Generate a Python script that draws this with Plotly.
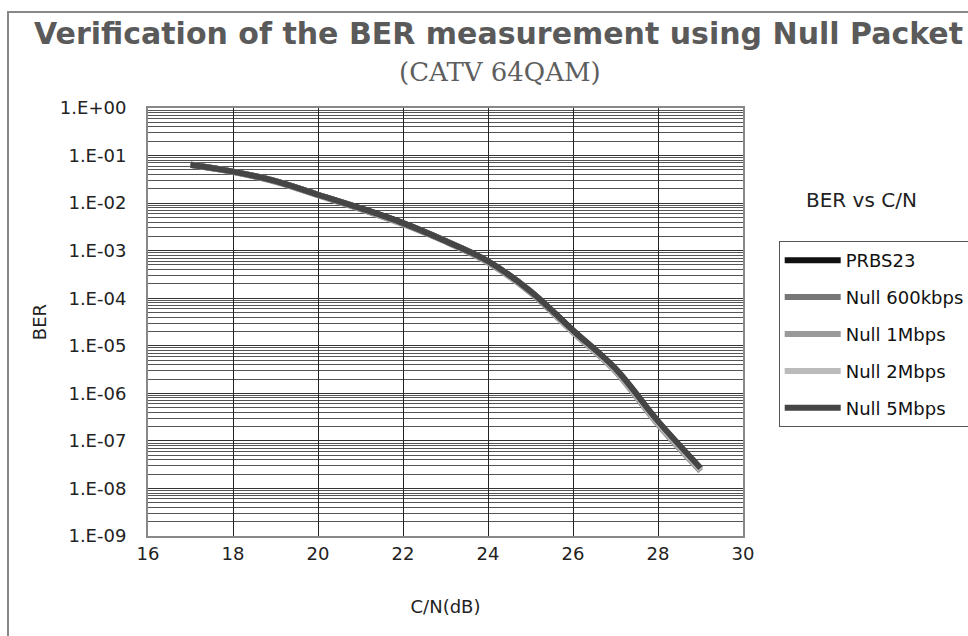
import plotly.graph_objects as go

cn_db = [17, 18, 19, 20, 21, 22, 23, 24, 25, 26, 27, 28, 29]
prbs23 = [6.4e-2, 4.6e-2, 2.9e-2, 1.5e-2, 7.8e-3, 3.8e-3, 1.6e-3, 6.0e-4, 1.4e-4, 2.1e-5, 3.2e-6, 2.5e-7, 2.6e-8]
null_600k = [6.5e-2, 4.6e-2, 2.9e-2, 1.5e-2, 7.6e-3, 3.7e-3, 1.6e-3, 5.8e-4, 1.35e-4, 2.0e-5, 3.0e-6, 2.3e-7, 2.4e-8]
null_1m = [6.3e-2, 4.5e-2, 2.8e-2, 1.45e-2, 7.5e-3, 3.6e-3, 1.55e-3, 5.6e-4, 1.3e-4, 1.9e-5, 2.9e-6, 2.2e-7, 2.3e-8]
null_2m = [6.4e-2, 4.6e-2, 2.9e-2, 1.5e-2, 7.7e-3, 3.7e-3, 1.6e-3, 5.9e-4, 1.4e-4, 2.0e-5, 3.1e-6, 2.4e-7, 2.5e-8]
null_5m = [6.4e-2, 4.6e-2, 2.9e-2, 1.5e-2, 7.8e-3, 3.8e-3, 1.6e-3, 6.0e-4, 1.4e-4, 2.1e-5, 3.3e-6, 2.6e-7, 2.7e-8]

series_names = ["PRBS23", "Null 600kbps", "Null 1Mbps", "Null 2Mbps", "Null 5Mbps"]
series_values = [prbs23, null_600k, null_1m, null_2m, null_5m]
series_colors = ["#111111", "#777777", "#9a9a9a", "#bbbbbb", "#454545"]

y_tickvals = [1e0, 1e-1, 1e-2, 1e-3, 1e-4, 1e-5, 1e-6, 1e-7, 1e-8, 1e-9]
y_ticktext = ["1.E+00", "1.E-01", "1.E-02", "1.E-03", "1.E-04", "1.E-05", "1.E-06", "1.E-07", "1.E-08", "1.E-09"]
x_tickvals = [16, 18, 20, 22, 24, 26, 28, 30]

font_fam = "DejaVu Sans, sans-serif"

fig = go.Figure()
for i, (name, vals, col) in enumerate(zip(series_names, series_values, series_colors)):
    fig.add_trace(go.Scatter(
        x=cn_db, y=vals, mode="lines", name=name,
        line=dict(color=col, width=6, shape="spline"),
        legendgroup=f"g{i}",
    ))

fig.update_layout(
    width=968, height=636,
    margin=dict(l=148, r=225, t=108, b=100, autoexpand=False),
    paper_bgcolor="white", plot_bgcolor="white",
    font=dict(family=font_fam, size=18, color="#222222"),
    showlegend=True,
    legend=dict(
        x=1.06, y=(536 - 241) / 428, xanchor="left", yanchor="top",
        bordercolor="#555555", borderwidth=1, bgcolor="white",
        font=dict(family=font_fam, size=18, color="#111111"),
        tracegroupgap=10.5, itemwidth=56,
    ),
)

fig.update_xaxes(
    range=[16, 30], tickvals=x_tickvals,
    showgrid=True, gridcolor="#222222", gridwidth=1,
    showline=True, linecolor="#888888", linewidth=2, mirror=True,
    zeroline=False, ticks="", ticklabelstandoff=0,
    tickfont=dict(family=font_fam, size=18),
    title=dict(text="C/N(dB)", font=dict(family=font_fam, size=18), standoff=38),
)
fig.update_yaxes(
    type="log", range=[-9, 0], tickvals=y_tickvals, ticktext=y_ticktext,
    showgrid=True, gridcolor="#333333", gridwidth=1,
    minor=dict(dtick="D1", showgrid=True, gridcolor="#555555", gridwidth=1, ticks=""),
    showline=True, linecolor="#888888", linewidth=2, mirror=True,
    zeroline=False, ticks="", ticklabelstandoff=16,
    tickfont=dict(family=font_fam, size=18),
    title=dict(text="BER", font=dict(family=font_fam, size=18), standoff=9),
)

fig.add_annotation(
    text="<b>Verification of the BER measurement using Null Packet</b>",
    xref="paper", yref="paper", x=(498 - 148) / 595, y=(536 - 34) / 428,
    xanchor="center", yanchor="middle", showarrow=False,
    font=dict(family="DejaVu Sans, sans-serif", size=30, color="#5a5a5a"),
)
fig.add_annotation(
    text="(CATV 64QAM)",
    xref="paper", yref="paper", x=(500 - 148) / 595, y=(536 - 72) / 428,
    xanchor="center", yanchor="middle", showarrow=False,
    font=dict(family="DejaVu Serif, serif", size=26, color="#5e5e5e"),
)
fig.add_annotation(
    text="BER vs C/N",
    xref="paper", yref="paper", x=(861 - 148) / 595, y=(536 - 200) / 428,
    xanchor="center", yanchor="middle", showarrow=False,
    font=dict(family=font_fam, size=20, color="#222222"),
)
fig.add_shape(
    type="rect", xref="paper", yref="paper",
    x0=(8 - 148) / 595, x1=1.5, y0=-0.3, y1=(536 - 12) / 428,
    line=dict(color="#888888", width=2), fillcolor="rgba(0,0,0,0)", layer="below",
)

fig.write_html(
    "out.html",
    config={"displayModeBar": False},
    post_script="document.body.style.margin='0';document.body.style.overflow='hidden';",
)
